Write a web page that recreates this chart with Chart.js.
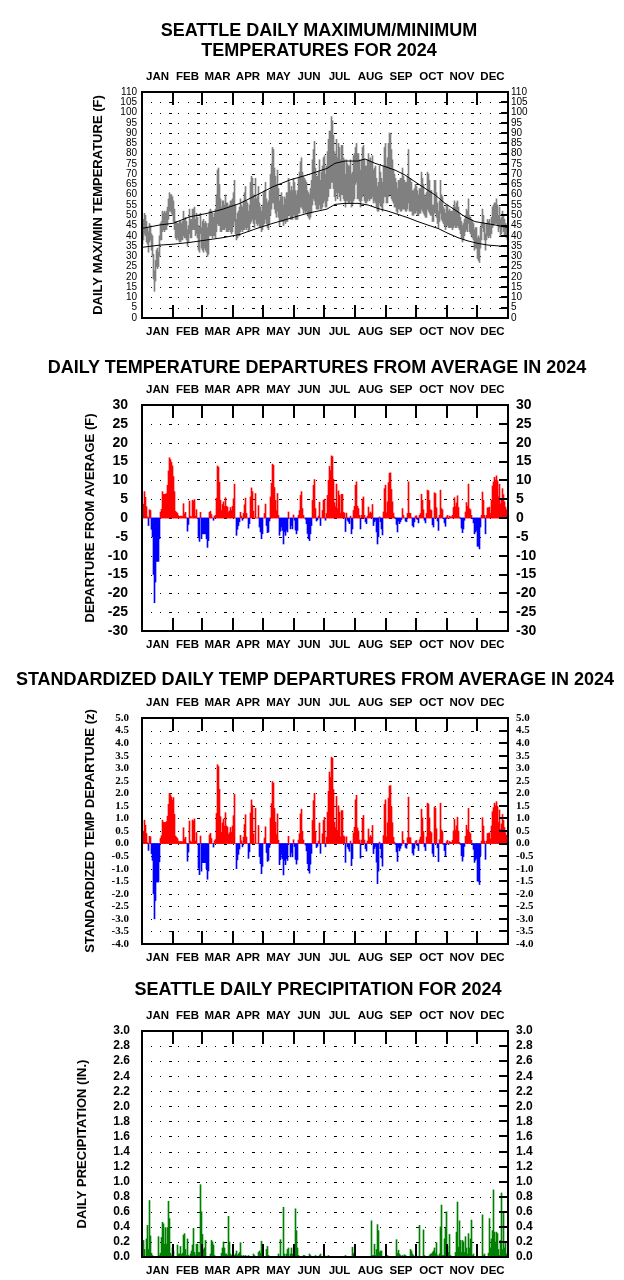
<!DOCTYPE html>
<html>
<head>
<meta charset="utf-8">
<script src="https://cdn.jsdelivr.net/npm/chart.js@4.4.0/dist/chart.umd.min.js"></script>
<style>
  body { margin: 0; background: #fff; width: 624px; height: 1280px; position: relative; overflow: hidden;
         font-family: "Liberation Sans", Arial, sans-serif; }
  .title { position: absolute; width: 624px; text-align: center; font-weight: bold; font-size: 18px;
           line-height: 20px; color: #000; z-index: 2; white-space: nowrap; }
  canvas { position: absolute; left: 0; }
</style>
</head>
<body>
<div class="title" style="top:20px;left:7px">SEATTLE DAILY MAXIMUM/MINIMUM<br>TEMPERATURES FOR 2024</div>
<div class="title" style="top:357px;left:5px">DAILY TEMPERATURE DEPARTURES FROM AVERAGE IN 2024</div>
<div class="title" style="top:669px;left:3px">STANDARDIZED DAILY TEMP DEPARTURES FROM AVERAGE IN 2024</div>
<div class="title" style="top:979px;left:6px">SEATTLE DAILY PRECIPITATION FOR 2024</div>
<canvas id="tempChart" width="624" height="290" style="top:52px"></canvas>
<canvas id="depChart" width="624" height="290" style="top:365px"></canvas>
<canvas id="zChart" width="624" height="290" style="top:678px"></canvas>
<canvas id="precipChart" width="624" height="290" style="top:991px"></canvas>
<script>
const monthNames = ["JAN", "FEB", "MAR", "APR", "MAY", "JUN", "JUL", "AUG", "SEP", "OCT", "NOV", "DEC"];
const monthStarts = [0, 31, 60, 91, 121, 152, 182, 213, 244, 274, 305, 335, 366];

// daily max / min (F), one value per day of 2024
const tMax = [
  44,48,51,50,47,44,42,46,45,41,40,31,23,28,33,34,32,40,46,47,52,51,52,51,52,54,58,61,60,60,59,
  57,53,47,47,46,46,47,47,46,47,52,48,49,47,43,45,53,48,48,53,53,54,48,51,49,45,44,51,44,
  47,48,46,47,46,44,46,52,53,52,51,49,51,53,60,72,73,65,58,54,57,57,55,60,56,56,54,55,57,57,58,
  61,67,55,48,51,52,54,58,55,54,57,61,64,57,56,52,55,66,69,68,60,58,68,58,59,64,56,54,52,55,
  61,62,66,58,56,57,62,70,75,83,82,73,69,65,72,63,57,59,61,59,55,59,58,61,61,68,66,62,64,62,68,
  66,62,60,62,68,71,76,78,71,69,68,67,66,62,61,60,63,67,77,82,86,73,69,69,71,77,67,71,74,78,
  79,70,74,81,87,91,91,98,96,89,81,79,87,78,85,83,77,84,84,78,77,70,77,75,74,74,77,70,71,79,80,
  83,85,80,80,77,72,77,83,84,77,74,74,77,80,77,78,76,79,72,73,74,68,64,66,74,71,68,66,74,83,85,
  74,78,85,90,90,82,77,72,70,68,66,63,67,67,68,68,73,69,67,66,66,69,82,68,68,66,62,62,63,65,
  64,62,60,63,63,71,68,65,60,59,61,71,70,67,62,62,55,55,67,67,61,56,52,57,67,60,59,54,53,51,55,
  55,52,53,52,52,52,54,57,54,56,57,54,51,49,47,45,46,48,50,53,52,58,50,49,48,47,46,43,44,44,
  39,40,39,44,46,53,50,46,41,46,48,47,48,45,49,54,55,56,56,58,55,50,54,48,49,52,50,48,46,45,46
];
const tMin = [
  36,38,41,40,37,36,32,37,38,33,30,19,13,18,25,24,25,30,38,38,42,43,42,43,43,45,48,52,52,51,50,
  47,43,39,38,39,38,37,37,38,38,40,39,39,38,35,37,41,39,39,43,43,43,40,41,39,33,32,41,34,
  33,32,34,33,32,30,31,40,40,40,39,40,40,39,42,46,45,45,42,42,43,43,43,44,42,42,42,43,42,41,42,
  45,47,41,38,39,40,40,42,43,42,43,43,44,43,44,42,43,46,47,48,46,44,48,46,45,46,44,44,42,43,
  45,46,48,46,44,43,46,50,53,56,56,53,51,49,52,49,45,47,47,47,45,47,46,47,47,50,50,48,48,48,50,
  50,48,48,48,51,51,54,54,53,51,52,51,52,50,49,48,49,51,55,58,57,55,53,53,53,55,53,53,54,56,
  57,54,54,57,59,63,63,66,66,63,59,57,61,58,61,59,57,60,60,58,57,54,57,57,56,56,57,54,55,57,58,
  65,66,58,58,57,54,57,59,60,57,56,56,57,58,57,58,58,59,56,57,56,54,52,52,56,55,54,52,56,59,59,
  56,56,59,60,60,58,57,56,54,54,52,51,53,53,52,52,53,53,53,52,52,53,56,52,52,52,50,50,51,51,
  52,50,50,51,51,53,52,51,50,49,49,53,52,51,50,50,47,47,51,51,49,46,44,47,51,48,47,46,45,43,45,
  45,44,44,44,44,43,44,45,44,44,45,44,43,41,39,37,38,40,42,43,42,46,42,41,40,39,38,33,34,34,
  29,28,27,34,38,44,42,38,33,38,40,39,40,39,41,44,45,46,46,46,45,42,44,40,41,44,42,40,40,39,38
];

// normal high / low lines (day of year, F)
const normHighDays = [0,18,31,48,65,81,98,115,131,148,165,185,193,203,216,223,233,243,253,263,273,283,293,303,313,323,333,343,353,366];
const normHigh = [43.6,45.3,46.1,49.3,50.9,53.0,55.8,59.9,63.9,67.2,69.6,72.8,75.3,76.4,76.4,77.4,75.3,73.7,72.0,69.6,66.3,63.1,59.9,55.8,52.6,49.3,46.9,46.1,45.3,44.0];
const normLowDays = [0,18,31,48,65,81,98,115,131,148,165,185,193,203,216,226,236,246,256,266,276,286,296,306,316,326,336,346,366];
const normLow = [34.4,35.5,35.9,36.8,38.0,39.1,40.7,43.6,46.1,48.5,50.9,53.0,55.3,55.8,55.8,55.0,53.3,52.0,50.4,48.8,46.9,45.2,43.6,41.2,39.1,37.5,36.3,35.5,34.7];

// departure from average (F)
const departure = [
  1,3.7,7,5.5,3,0.3,-2,2.2,2,-3,-5,-15,-22.5,-17,-11.5,-11.5,-11.5,-5.5,1.6,2.3,7,6.3,6.3,6.3,6.5,8.7,12.5,16,15.5,14.8,13.8,
  11,7,1.8,1.5,1.2,0.6,0.4,0.5,0.5,0.4,3.8,1.1,1.5,0.1,-3.5,-1.7,4.5,0.5,0.3,4.7,4.5,4.9,0.5,2.2,0,-4.9,-6.2,1.5,-5.5,
  -4.2,-4.2,-4.2,-4.2,-5.5,-7.8,-6,1.5,1.8,0.9,0,-0.6,0.5,0.7,5.3,13.8,13.5,9.5,4.7,2,3.6,4.3,3.1,5.4,3.1,2.9,1.6,1.9,2.8,2,3.1,
  5.1,9,0,-4.6,-3,-2,-1,1.5,0.5,-0.6,1.2,3.5,5.3,1.2,0,-2.7,-1.5,5.6,8,7,1.8,0,6.5,0,0,3.3,-2.4,-3.7,-5.5,-4.2,
  0,1.2,3.7,-2,-3.9,-3.7,-0.8,5.6,9.2,14.3,14,8.1,4.7,2,6.5,0.7,-4.6,-3.5,-2.4,-3.3,-6.9,-3.7,-4.6,-3.3,-3.7,1.6,0,-2.9,-2,-2.9,0.8,
  -0.6,-3.2,-4.2,-3.3,0.7,2,6,7,2.5,0.7,0,-0.3,-1.5,-4.1,-5.5,-6,-4.2,-2,4.7,8.7,10.2,2.5,-0.8,-0.5,0.5,4.2,-2,0,2,4.7,
  5,-0.6,1.2,6,10,13.7,12.6,16.5,16.3,10.3,4.1,3,9,2.5,7.2,6,1.3,6.3,6.3,1.5,1.3,-3.6,1.3,-0.6,-1,-1.5,0.5,-4.2,-2.9,2,3.1,
  8.7,9.6,3.1,2.5,0.7,-2.9,0.7,5,5.6,0.7,-1,-1.5,0.5,2.9,1.2,1.6,1.3,3.6,-2,-1,-0.6,-3.7,-6.9,-5,0.3,-1,-2.9,-4.5,1.6,7.8,8.7,
  1.4,4.3,9.4,11.9,12,7.6,4.3,1.3,0.3,-0.2,-1.7,-3.7,-0.8,-1.5,-1,-0.4,2.5,0.7,0,-0.8,-1,1.2,9.6,1.3,1.2,0.1,-2,-2.4,-1,0.5,
  0.6,-0.4,-1.3,0.7,1.2,6.3,4.7,2.2,-0.6,-1.3,1.2,7.4,7.2,4.7,2.2,2,-1.8,-2.4,6.7,6.5,2.7,-0.8,-3.3,0.7,7.4,2.5,2.2,-0.2,-1.3,-2.2,0.3,
  0.7,-0.2,0.5,0.3,0.3,0.7,2.8,5.4,3,4,5.9,2.8,0.3,-0.2,-2.7,-3.9,-2.9,-0.6,1.6,4.1,3.1,9,2.5,2.2,0.7,-0.2,-1.3,-4.2,-3.7,-3.3,
  -7.5,-7.5,-8.2,-2.4,0.7,6.9,4.7,0.7,-4.2,0.7,2.7,2.7,2.9,1.2,4.7,8.5,9.6,10.8,10.1,11.2,9.9,5.6,9,3.8,5.2,7.8,6.2,4.3,2.9,2.2,2
];

// standardized departure (z)
const zScore = [
  0.13,0.49,0.93,0.73,0.4,0.04,-0.27,0.29,0.27,-0.4,-0.67,-2.0,-3.0,-2.27,-1.53,-1.53,-1.53,-0.73,0.21,0.31,0.93,0.84,0.84,0.84,0.87,1.09,1.56,2.0,1.94,1.85,1.73,
  1.83,1.17,0.3,0.25,0.2,0.1,0.07,0.08,0.08,0.07,0.63,0.18,0.25,0.02,-0.7,-0.34,0.9,0.1,0.06,0.94,0.9,0.98,0.1,0.44,0,-0.98,-1.24,0.3,-1.1,
  -0.76,-0.76,-0.76,-0.76,-1.0,-1.42,-1.09,0.34,0.41,0.2,0,-0.14,0.11,0.16,1.2,3.14,3.07,2.16,1.07,0.45,0.82,0.98,0.7,1.23,0.7,0.66,0.36,0.43,0.64,0.45,0.7,
  1.11,1.96,0,-1.0,-0.65,-0.43,-0.22,0.33,0.11,-0.13,0.26,0.76,1.15,0.26,0,-0.59,-0.33,1.22,1.74,1.52,0.39,0,1.41,0,0,0.72,-0.52,-0.8,-1.2,-0.91,
  0,0.22,0.67,-0.36,-0.71,-0.67,-0.15,1.02,1.59,2.47,2.41,1.4,0.85,0.36,1.18,0.13,-0.84,-0.64,-0.44,-0.6,-1.25,-0.67,-0.84,-0.6,-0.67,0.29,0,-0.53,-0.36,-0.53,0.15,
  -0.12,-0.63,-0.82,-0.65,0.14,0.39,1.18,1.37,0.49,0.14,0,-0.06,-0.29,-0.8,-1.08,-1.18,-0.82,-0.39,0.92,1.71,2.0,0.49,-0.16,-0.1,0.1,0.82,-0.39,0,0.39,0.92,
  1.04,-0.13,0.25,1.25,2.08,2.85,2.63,3.44,3.4,2.15,0.85,0.63,1.88,0.52,1.5,1.25,0.27,1.31,1.31,0.31,0.27,-0.75,0.27,-0.13,-0.21,-0.31,0.1,-0.88,-0.6,0.42,0.65,
  1.74,1.92,0.62,0.5,0.14,-0.58,0.14,1.0,1.12,0.14,-0.2,-0.3,0.1,0.58,0.24,0.32,0.26,0.72,-0.4,-0.2,-0.12,-0.74,-1.6,-1.1,0.06,-0.2,-0.58,-0.9,0.32,1.56,1.74,
  0.27,0.83,1.81,2.29,2.31,1.46,0.83,0.25,0.06,-0.04,-0.33,-0.71,-0.15,-0.29,-0.19,-0.08,0.48,0.13,0,-0.15,-0.19,0.23,1.85,0.25,0.23,0.02,-0.38,-0.46,-0.19,0.1,
  0.13,-0.09,-0.28,0.15,0.26,1.37,1.02,0.48,-0.13,-0.28,0.26,1.61,1.57,1.02,0.48,0.43,-0.39,-0.52,1.46,1.41,0.59,-0.17,-0.72,0.15,1.61,0.54,0.48,-0.04,-0.28,-0.48,0.07,
  0.13,-0.04,0.09,0.05,0.05,0.13,0.5,0.96,0.54,0.71,1.05,0.5,0.05,-0.04,-0.48,-0.7,-0.52,-0.11,0.29,0.73,0.55,1.4,0.45,0.39,0.13,-0.04,-0.23,-0.75,-0.66,-0.59,
  -1.5,-1.5,-1.63,-0.48,0.1,1.03,0.7,0.1,-0.63,0.1,0.4,0.4,0.43,0.18,0.7,1.27,1.43,1.61,1.51,1.67,1.48,0.84,1.34,0.57,0.78,1.16,0.93,0.64,0.43,0.33,0.3
];

// precipitation (in.) on wet days only
const precipDays = [
  0,1,2,4,5,6,7,8,9,10,16,17,18,19,20,21,22,23,24,25,26,27,28,29,30,
  31,35,36,37,38,39,40,41,42,43,44,45,46,48,49,50,51,52,53,54,55,56,57,58,59,
  60,61,62,63,68,69,70,71,72,79,80,81,82,83,84,85,86,87,88,89,
  92,93,94,95,96,97,98,99,101,103,106,111,112,116,117,118,119,120,
  124,125,126,136,138,141,142,144,145,146,148,149,150,
  152,153,154,155,156,161,162,167,168,173,177,178,
  182,186,203,210,211,212,
  229,230,231,232,233,234,235,236,237,238,239,
  245,254,255,256,257,258,260,262,263,268,269,270,271,
  274,277,281,282,287,288,289,290,291,292,293,294,295,297,298,299,300,301,302,303,304,
  305,306,307,308,313,314,315,316,317,318,319,320,321,322,323,324,325,326,327,328,329,330,331,
  340,341,342,346,347,348,349,350,351,352,353,354,355,356,357,358,359,360,361,362,363,364,365
];
const precipInches = [
  0.05,0.22,0.1,0.24,0.42,0.1,0.75,0.28,0.05,0.02,0.27,0.02,0.05,0.26,0.46,0.44,0.17,0.39,0.17,0.39,0.74,0.51,0.05,0.02,0.12,
  0.08,0.16,0.04,0.04,0.14,0.03,0.05,0.29,0.31,0.1,0.02,0.24,0.02,0.04,0.08,0.16,0.38,0.06,0.02,0.17,0.17,0.06,0.06,0.96,0.6,
  0.3,0.1,0.12,0.22,0.04,0.22,0.2,0.16,0.02,0.05,0.12,0.2,0.12,0.04,0.04,0.02,0.54,0.2,0.04,0.02,
  0.02,0.04,0.08,0.02,0.04,0.06,0.19,0.02,0.02,0.02,0.02,0.04,0.02,0.06,0.08,0.05,0.21,0.02,
  0.1,0.14,0.02,0.04,0.23,0.66,0.04,0.04,0.1,0.12,0.04,0.12,0.04,
  0.04,0.64,0.35,0.12,0.02,0.02,0.02,0.04,0.02,0.02,0.02,0.04,
  0.02,0.02,0.02,0.13,0.05,0.02,
  0.48,0.02,0.02,0.17,0.02,0.1,0.43,0.35,0.06,0.08,0.08,
  0.02,0.23,0.05,0.09,0.04,0.02,0.02,0.03,0.02,0.1,0.08,0.04,0.02,
  0.02,0.42,0.36,0.02,0.02,0.04,0.04,0.06,0.08,0.12,0.05,0.19,0.02,0.04,0.4,0.69,0.02,0.02,0.24,0.38,0.6,
  0.14,0.06,0.3,0.02,0.06,0.33,0.73,0.13,0.48,0.22,0.06,0.22,0.2,0.06,0.27,0.12,0.04,0.31,0.12,0.24,0.49,0.02,0.04,
  0.56,0.02,0.04,0.05,0.51,0.12,0.24,0.35,0.89,0.33,0.2,0.33,0.31,0.1,0.02,0.22,0.85,0.1,0.58,0.12,0.2,0.04,0.02
];

const FONT = "'Liberation Sans', Arial, sans-serif";
const monthMid = monthNames.map((_, i) => (monthStarts[i] + monthStarts[i + 1]) / 2);

// dotted grid rows, plot frame, month ticks and inward right ticks
function framePlugin(rightTick) {
  return {
    id: "frame",
    beforeDatasetsDraw(chart) {
      const { ctx, chartArea: a, scales: { y } } = chart;
      ctx.save();
      ctx.fillStyle = "#000";
      y.ticks.forEach(t => {
        const py = Math.round(y.getPixelForValue(t.value));
        if (py <= a.top + 2 || py >= a.bottom - 2) return;
        for (let i = 0, px = a.left + 9; px < a.right - 4; i++, px += 9.15) {
          ctx.fillRect(Math.round(px), py, i % 3 === 2 ? 3 : 1, 1);
        }
      });
      ctx.restore();
    },
    afterDatasetsDraw(chart) {
      const { ctx, chartArea: a, scales: { x, y } } = chart;
      ctx.save();
      ctx.strokeStyle = "#000";
      ctx.lineWidth = 2;
      ctx.beginPath();
      monthStarts.slice(1, -1).forEach(d => {
        const px = Math.round(x.getPixelForValue(d));
        ctx.moveTo(px, a.top); ctx.lineTo(px, a.top + 13);
        ctx.moveTo(px, a.bottom); ctx.lineTo(px, a.bottom - 13);
      });
      y.ticks.forEach(t => {
        const py = Math.round(y.getPixelForValue(t.value));
        ctx.moveTo(a.right - rightTick, py); ctx.lineTo(a.right, py);
      });
      ctx.stroke();
      ctx.strokeRect(a.left, a.top, a.right - a.left, a.bottom - a.top);
      ctx.restore();
    }
  };
}

function monthAxis(position, pad, height) {
  return {
    type: "linear", position, min: 0, max: 366, offset: false,
    grid: { display: false, drawTicks: false }, border: { display: false },
    afterBuildTicks: s => { s.ticks = monthMid.map(v => ({ value: v })); },
    afterFit: s => { s.height = height; },
    ticks: {
      autoSkip: false, maxRotation: 0, padding: pad, color: "#000",
      font: { family: FONT, size: 11.5, weight: "bold" },
      callback: (v, i) => monthNames[i]
    }
  };
}

function panel(id, datasets, opt) {
  const ticks = { stepSize: opt.step, autoSkip: false, color: "#000", font: opt.font, callback: opt.fmt };
  return new Chart(document.getElementById(id), {
    type: "bar",
    data: { datasets },
    options: {
      responsive: false,
      animation: false,
      layout: { padding: 0 },
      plugins: { legend: { display: false }, tooltip: { enabled: false } },
      scales: {
        x: monthAxis("bottom", 7, 24),
        xTop: monthAxis("top", 8, 40),
        y: {
          position: "left", min: opt.min, max: opt.max,
          grid: { display: false, drawTicks: false }, border: { display: false },
          afterFit: s => { s.width = 142; },
          ticks: { ...ticks, padding: opt.padL },
          title: {
            display: true, text: opt.title, color: "#000",
            font: { family: FONT, size: 13, weight: "bold" },
            padding: { top: opt.titleX - 7.8, bottom: 0 }
          }
        },
        y2: {
          position: "right", min: opt.min, max: opt.max,
          grid: { display: false, drawTicks: false }, border: { display: false },
          afterFit: s => { s.width = 116; },
          ticks: { ...ticks, padding: opt.padR }
        }
      }
    },
    plugins: [framePlugin(opt.rightTick)]
  });
}

const bar = { barThickness: 1, borderWidth: 0, order: 1 };

panel("tempChart", [
  { ...bar, backgroundColor: "#808080",
    data: tMax.map((v, i) => ({ x: i + 0.5, y: [tMin[i], v] })) },
  { type: "line", order: 0, borderColor: "#000", borderWidth: 1, pointRadius: 0, tension: 0,
    data: normHighDays.map((d, i) => ({ x: d, y: normHigh[i] })) },
  { type: "line", order: 0, borderColor: "#000", borderWidth: 1, pointRadius: 0, tension: 0,
    data: normLowDays.map((d, i) => ({ x: d, y: normLow[i] })) }
], { min: 0, max: 110, step: 5, fmt: v => v, font: { family: FONT, size: 10 },
     padL: 5, padR: 3, rightTick: 7, title: "DAILY MAX/MIN TEMPERATURE (F)", titleX: 98 });

panel("depChart", [
  { ...bar, backgroundColor: c => (c.raw && c.raw.y < 0 ? "#0000ff" : "#ff0000"),
    data: departure.map((v, i) => ({ x: i + 0.5, y: v })) }
], { min: -30, max: 30, step: 5, fmt: v => v, font: { family: FONT, size: 14, weight: "bold" },
     padL: 14, padR: 8, rightTick: 9, title: "DEPARTURE FROM AVERAGE (F)", titleX: 90 });

panel("zChart", [
  { ...bar, backgroundColor: c => (c.raw && c.raw.y < 0 ? "#0000ff" : "#ff0000"),
    data: zScore.map((v, i) => ({ x: i + 0.5, y: v })) }
], { min: -4, max: 5, step: 0.5, fmt: v => Number(v).toFixed(1),
     font: { family: "'Liberation Serif', 'Times New Roman', serif", size: 11, weight: "bold" },
     padL: 13, padR: 8, rightTick: 9, title: "STANDARDIZED TEMP DEPARTURE (z)", titleX: 90 });

panel("precipChart", [
  { ...bar, backgroundColor: "#008000",
    data: precipDays.map((d, i) => ({ x: d + 0.5, y: precipInches[i] })) }
], { min: 0, max: 3, step: 0.2, fmt: v => Number(v).toFixed(1), font: { family: FONT, size: 12, weight: "bold" },
     padL: 12, padR: 8, rightTick: 9, title: "DAILY PRECIPITATION (IN.)", titleX: 82 });
</script>
</body>
</html>
